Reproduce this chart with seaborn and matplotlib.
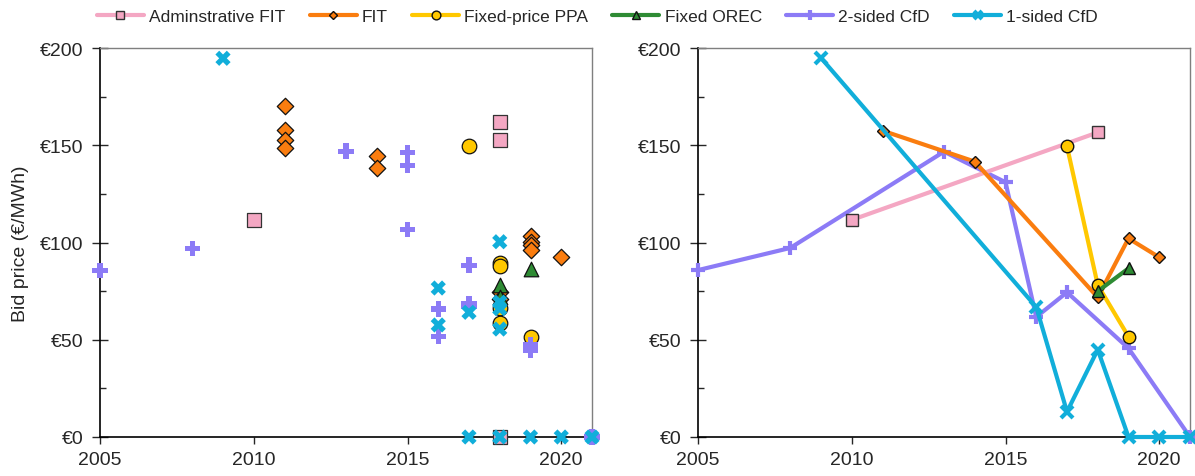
import numpy as np
import matplotlib
matplotlib.use('Agg')
import matplotlib.pyplot as plt
import pandas as pd
import seaborn as sns

# left panel: individual bids
adm_x = [2010, 2018, 2018, 2018]
adm_y = [111.6, 161.8, 152.7, 0]
fit_x = [2011, 2011, 2011, 2011, 2014, 2014, 2018, 2018, 2019, 2019, 2019, 2019, 2020]
fit_y = [170.3, 158.0, 152.5, 148.4, 144.6, 138.3, 74.5, 71.0, 103.5, 100.5, 98.7, 96.3, 92.4]
ppa_x = [2017, 2018, 2018, 2018, 2018, 2019]
ppa_y = [149.4, 89.5, 88.0, 66.5, 58.5, 51.3]
orec_x = [2018, 2018, 2019]
orec_y = [78.0, 72.0, 86.5]
cfd2_x = [2005, 2008, 2013, 2015, 2015, 2015, 2016, 2016, 2017, 2017, 2017, 2019, 2019, 2021]
cfd2_y = [85.8, 97.0, 147.0, 146.4, 139.8, 106.6, 65.8, 51.8, 88.4, 68.4, 67.0, 47.3, 44.4, 0]
cfd1_x = [2009, 2016, 2016, 2017, 2017, 2018, 2018, 2018, 2018, 2018, 2019, 2020, 2021]
cfd1_y = [194.7, 76.6, 57.6, 64.1, 0, 100.4, 69.3, 66.0, 55.5, 0, 0, 0, 0]

# right panel: yearly averages
adm_avg_x = [2010, 2018]
adm_avg_y = [111.6, 156.6]
fit_avg_x = [2011, 2014, 2018, 2019, 2020]
fit_avg_y = [157.5, 141.6, 71.8, 102.1, 92.4]
ppa_avg_x = [2017, 2018, 2019]
ppa_avg_y = [149.4, 78.1, 51.6]
orec_avg_x = [2018, 2019]
orec_avg_y = [74.9, 86.7]
cfd2_avg_x = [2005, 2008, 2013, 2015, 2016, 2017, 2019, 2021]
cfd2_avg_y = [85.8, 97.2, 146.7, 131.0, 61.7, 74.4, 45.6, 0]
cfd1_avg_x = [2009, 2016, 2017, 2018, 2019, 2020, 2021]
cfd1_avg_y = [194.9, 66.8, 13.0, 44.9, 0, 0, 0]

labels = ['Adminstrative FIT', 'FIT', 'Fixed-price PPA', 'Fixed OREC', '2-sided CfD', '1-sided CfD']
colors = ['#F4A7C3', '#FA7D0F', '#FFC800', '#2E8B34', '#8C7BF6', '#11AEDA']

sns.set_style('white')
plt.rcParams['font.family'] = ['Liberation Sans', 'DejaVu Sans']

fig = plt.figure(figsize=(11.95, 4.77), dpi=100)
ax1 = fig.add_axes([100 / 1195, 39 / 477, 492 / 1195, 389 / 477])
ax2 = fig.add_axes([698 / 1195, 39 / 477, 492 / 1195, 389 / 477])

# graph 1: scatter of all bids
left = [(adm_x, adm_y, 's', 90, '#333333', 0.9),
        (fit_x, fit_y, 'D', 70, '#111111', 0.9),
        (ppa_x, ppa_y, 'o', 110, '#111111', 0.9),
        (orec_x, orec_y, '^', 110, '#111111', 0.9),
        (cfd2_x, cfd2_y, 'P', 120, 'none', 0),
        (cfd1_x, cfd1_y, 'X', 120, 'none', 0)]
for i, (x, y, m, s, ec, lw) in enumerate(left):
    sns.scatterplot(x=x, y=y, ax=ax1, marker=m, s=s, color=colors[i],
                    edgecolor=ec, linewidth=lw, clip_on=False, zorder=3 + i)

# graph 2: yearly averages as lines
right = [(adm_avg_x, adm_avg_y, 's', 9, '#333333', 1.0, 4),
         (fit_avg_x, fit_avg_y, 'D', 6.5, '#111111', 1.0, 5),
         (ppa_avg_x, ppa_avg_y, 'o', 9, '#111111', 1.0, 6),
         (orec_avg_x, orec_avg_y, '^', 9, '#111111', 1.0, 7),
         (cfd2_avg_x, cfd2_avg_y, '+', 10, colors[4], 3.0, 3),
         (cfd1_avg_x, cfd1_avg_y, 'x', 9, colors[5], 3.0, 8)]
for i, (x, y, m, ms, mec, mew, z) in enumerate(right):
    sns.lineplot(x=x, y=y, ax=ax2, color=colors[i], lw=3, marker=m, markersize=ms,
                 markerfacecolor=colors[i], markeredgecolor=mec, markeredgewidth=mew,
                 label=labels[i], estimator=None, sort=False, clip_on=False, zorder=z)

handles, labs = ax2.get_legend_handles_labels()
ax2.get_legend().remove()
fig.legend(handles, labs, loc='center', bbox_to_anchor=(0.5, 1 - 17 / 477), ncol=6,
           frameon=False, fontsize=12.5, handlelength=2.7, columnspacing=1.4,
           handletextpad=0.3, markerscale=0.7)

for ax in [ax1, ax2]:
    ax.set_xlim(2005, 2021)
    ax.set_ylim(0, 200)
    ax.set_xticks([2005, 2010, 2015, 2020])
    ax.set_yticks([0, 50, 100, 150, 200])
    ax.set_yticks([25, 75, 125, 175], minor=True)
    ax.set_yticklabels(['€0', '€50', '€100', '€150', '€200'])
    ax.tick_params(axis='y', which='major', direction='inout', length=12, width=1,
                   labelsize=14, pad=6, left=True)
    ax.tick_params(axis='y', which='minor', direction='in', length=4.5, width=1, left=True)
    ax.tick_params(axis='x', which='major', direction='out', length=5, width=1,
                   labelsize=14, pad=5, bottom=True)
    for side in ['left', 'bottom']:
        ax.spines[side].set_color('black')
        ax.spines[side].set_linewidth(1.2)
    for side in ['top', 'right']:
        ax.spines[side].set_color('#7f7f7f')
        ax.spines[side].set_linewidth(1)
    ax.set_xlabel('')

ax1.set_ylabel('Bid price (€/MWh)', fontsize=14, labelpad=8)
ax2.set_ylabel('')

plt.savefig('out.png', dpi=100)
